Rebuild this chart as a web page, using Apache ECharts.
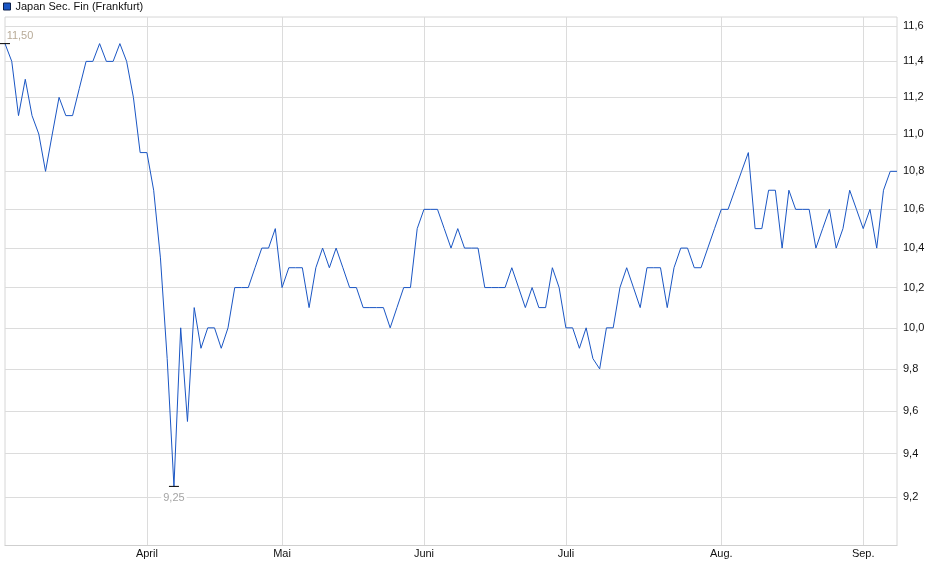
<!DOCTYPE html>
<html>
<head>
<meta charset="utf-8">
<style>
html,body{margin:0;padding:0;background:#fff;}
#chart{width:940px;height:579px;}
</style>
<script src="https://cdn.jsdelivr.net/npm/echarts@6/dist/echarts.min.js"></script>
</head>
<body>
<div id="chart"></div>
<script>
// Trading days (Frankfurt), 2025
var dates = [
 '2025-03-03','2025-03-04','2025-03-05','2025-03-06','2025-03-07','2025-03-10','2025-03-11','2025-03-12','2025-03-13','2025-03-14',
 '2025-03-17','2025-03-18','2025-03-19','2025-03-20','2025-03-21','2025-03-24','2025-03-25','2025-03-26','2025-03-27','2025-03-28','2025-03-31',
 '2025-04-01','2025-04-02','2025-04-03','2025-04-04','2025-04-07','2025-04-08','2025-04-09','2025-04-10','2025-04-11','2025-04-14',
 '2025-04-15','2025-04-16','2025-04-17','2025-04-22','2025-04-23','2025-04-24','2025-04-25','2025-04-28','2025-04-29','2025-04-30',
 '2025-05-02','2025-05-05','2025-05-06','2025-05-07','2025-05-08','2025-05-09','2025-05-12','2025-05-13','2025-05-14','2025-05-15',
 '2025-05-16','2025-05-19','2025-05-20','2025-05-21','2025-05-22','2025-05-23','2025-05-26','2025-05-27','2025-05-28','2025-05-29','2025-05-30',
 '2025-06-02','2025-06-03','2025-06-04','2025-06-05','2025-06-06','2025-06-09','2025-06-10','2025-06-11','2025-06-12','2025-06-13',
 '2025-06-16','2025-06-17','2025-06-18','2025-06-19','2025-06-20','2025-06-23','2025-06-24','2025-06-25','2025-06-26','2025-06-27','2025-06-30',
 '2025-07-01','2025-07-02','2025-07-03','2025-07-04','2025-07-07','2025-07-08','2025-07-09','2025-07-10','2025-07-11','2025-07-14',
 '2025-07-15','2025-07-16','2025-07-17','2025-07-18','2025-07-21','2025-07-22','2025-07-23','2025-07-24','2025-07-25','2025-07-28',
 '2025-07-29','2025-07-30','2025-07-31',
 '2025-08-01','2025-08-04','2025-08-05','2025-08-06','2025-08-07','2025-08-08','2025-08-11','2025-08-12','2025-08-13','2025-08-14',
 '2025-08-15','2025-08-18','2025-08-19','2025-08-20','2025-08-21','2025-08-22','2025-08-25','2025-08-26','2025-08-27','2025-08-28','2025-08-29',
 '2025-09-01','2025-09-02','2025-09-03','2025-09-04','2025-09-05','2025-09-08'
];

var prices = [
 11.5,11.4,11.1,11.3,11.1,11.0,10.8,11.0,11.2,11.1,
 11.1,11.25,11.4,11.4,11.5,11.4,11.4,11.5,11.4,11.2,10.9,
 10.9,10.7,10.35,9.85,9.25,10.0,9.55,10.1,9.9,10.0,
 10.0,9.9,10.0,10.2,10.2,10.2,10.3,10.4,10.4,10.5,
 10.2,10.3,10.3,10.3,10.1,10.3,10.4,10.3,10.4,10.3,
 10.2,10.2,10.1,10.1,10.1,10.1,10.0,10.1,10.2,10.2,10.5,
 10.6,10.6,10.6,10.5,10.4,10.5,10.4,10.4,10.4,10.2,
 10.2,10.2,10.2,10.3,10.2,10.1,10.2,10.1,10.1,10.3,10.2,
 10.0,10.0,9.9,10.0,9.85,9.8,10.0,10.0,10.2,10.3,
 10.2,10.1,10.3,10.3,10.3,10.1,10.3,10.4,10.4,10.3,
 10.3,10.4,10.5,
 10.6,10.6,10.7,10.8,10.9,10.5,10.5,10.7,10.7,10.4,
 10.7,10.6,10.6,10.6,10.4,10.5,10.6,10.4,10.5,10.7,10.6,
 10.5,10.6,10.4,10.7,10.8,10.8
];

var monthNames = ['Jan.','Feb.','März','April','Mai','Juni','Juli','Aug.','Sep.','Okt.','Nov.','Dez.'];
var yTicks = [9.2,9.4,9.6,9.8,10.0,10.2,10.4,10.6,10.8,11.0,11.2,11.4,11.6];
var yMin = 8.985, yMax = 11.6515;
var seriesName = 'Japan Sec. Fin (Frankfurt)';

function isMonthStart(idx) {
  if (idx === 0) return false;
  return dates[idx].slice(5,7) !== dates[idx-1].slice(5,7);
}
function comma(v, d) { return v.toFixed(d).replace('.', ','); }

var FONT = 'Liberation Sans, Arial, sans-serif';
var chart = echarts.init(document.getElementById('chart'), null, {renderer:'canvas'});
chart.setOption({
  animation: false,
  backgroundColor: '#fff',
  textStyle: {fontFamily: FONT},
  legend: {
    left: 3, top: 1, padding: 0,
    itemWidth: 7, itemHeight: 7, itemGap: 5,
    icon: 'rect',
    textStyle: {fontSize: 11, color: '#111', fontFamily: FONT, padding: [0,0,0,0]},
    data: [{name: seriesName, itemStyle: {color: '#1a56c4', borderColor: '#0b1f4a', borderWidth: 1}}]
  },
  grid: {left: 5, right: 43, top: 17, bottom: 33.5, show: true, borderColor: '#d6d6d6', borderWidth: 1},
  xAxis: {
    type: 'category',
    data: dates,
    boundaryGap: false,
    axisLine: {show: true, lineStyle: {color: '#cfcfcf'}},
    axisTick: {show: false},
    axisLabel: {
      interval: function (idx) { return isMonthStart(idx); },
      formatter: function (val) { return monthNames[parseInt(val.slice(5,7),10)-1]; },
      color: '#111', fontSize: 11, margin: 3, fontFamily: FONT
    },
    splitLine: {
      show: true,
      interval: function (idx) { return isMonthStart(idx); },
      lineStyle: {color: '#dcdcdc', width: 1}
    }
  },
  yAxis: {
    type: 'log',
    logBase: 10,
    position: 'right',
    min: yMin, max: yMax,
    axisLine: {show: false},
    axisTick: {show: false, customValues: yTicks},
    axisLabel: {
      customValues: yTicks,
      formatter: function (v) { return comma(v, 1); },
      color: '#111', fontSize: 11, margin: 6, fontFamily: FONT
    },
    splitLine: {show: true, lineStyle: {color: '#dcdcdc', width: 1}}
  },
  series: [{
    name: seriesName,
    type: 'line',
    data: prices,
    symbol: 'none',
    lineStyle: {color: '#1a56c4', width: 1},
    itemStyle: {color: '#1a56c4'},
    markPoint: {
      symbol: 'rect',
      symbolSize: [10, 1],
      itemStyle: {color: '#000'},
      data: [
        {type: 'max', name: 'max',
         label: {show: true, position: 'top', distance: 2, offset: [15, 0],
                 formatter: function (p) { return comma(p.value, 2); },
                 color: '#b8ab98', fontSize: 11, fontFamily: FONT}},
        {type: 'min', name: 'min',
         label: {show: true, position: 'bottom', distance: 6,
                 formatter: function (p) { return comma(p.value, 2); },
                 color: '#a5a5a5', fontSize: 11, fontFamily: FONT,
                 backgroundColor: '#fff', padding: [0, 2]}}
      ]
    }
  }]
});
</script>
</body>
</html>
